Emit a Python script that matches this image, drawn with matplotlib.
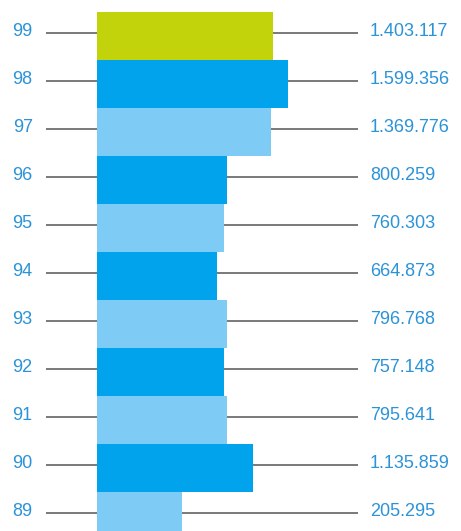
import matplotlib
matplotlib.use("Agg")
import matplotlib.pyplot as plt

years = ["99", "98", "97", "96", "95", "94", "93", "92", "91", "90", "89"]
values = [1403117, 1599356, 1369776, 800259, 760303, 664873,
          796768, 757148, 795641, 1135859, 205295]
labels = ["1.403.117", "1.599.356", "1.369.776", "800.259", "760.303", "664.873",
          "796.768", "757.148", "795.641", "1.135.859", "205.295"]

plt.rcParams['font.family'] = ['Liberation Sans', 'DejaVu Sans']

base = -908000          # bars start left of zero in the original graphic
text_blue = '#2b93d8'
colors = ['#c2d20b'] + ['#00a3ec' if i % 2 == 0 else '#7ecbf6' for i in range(len(years) - 1)]

fig = plt.figure(figsize=(4.61, 5.31), dpi=100)
ax = fig.add_axes([0, 0, 1, 1])

ypos = list(range(len(years)))
widths = [v - base for v in values]

for y, lab, vlab in zip(ypos, years, labels):
    ax.hlines(y - 0.05, -1.58e6, 2.51e6, color='#6e6e6e', lw=1.3, zorder=1)
    ax.text(-1.75e6, y - 0.09, lab, ha='right', va='center', fontsize=13, color=text_blue)
    ax.text(2.67e6, y - 0.09, vlab, ha='left', va='center', fontsize=13, color=text_blue)

ax.barh(ypos, widths, left=base, height=1.0, color=colors, zorder=2)

ax.set_xlim(-2.179e6, 3.863e6)
ax.set_ylim(10.32, -0.74)
ax.axis('off')

fig.savefig('out.png', dpi=100, facecolor='white')
